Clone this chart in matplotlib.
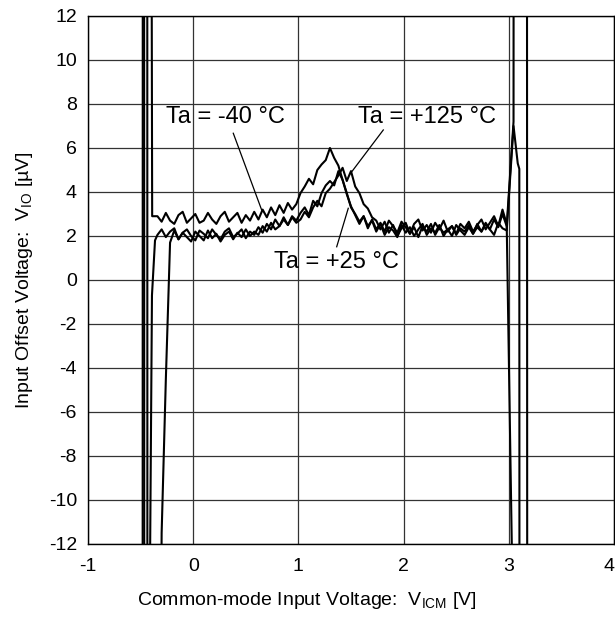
import numpy as np
import matplotlib.pyplot as plt

plt.rcParams['font.family'] = ['Liberation Sans', 'DejaVu Sans']
plt.rcParams['mathtext.fontset'] = 'custom'
plt.rcParams['mathtext.rm'] = 'Liberation Sans'

# common-mode input voltage [V] for the measured (in-range) part of the sweep
vicm = [-0.34, -0.30, -0.26, -0.22, -0.18, -0.14, -0.10, -0.06,
        -0.02, 0.02, 0.06, 0.10, 0.14, 0.18, 0.22, 0.26,
        0.30, 0.34, 0.38, 0.42, 0.46, 0.50, 0.54, 0.58,
        0.62, 0.66, 0.70, 0.74, 0.78, 0.82, 0.86, 0.90,
        0.94, 0.98, 1.02, 1.06, 1.10, 1.14, 1.18, 1.22,
        1.26, 1.30, 1.34, 1.38, 1.42, 1.46, 1.50, 1.54,
        1.58, 1.62, 1.66, 1.70, 1.74, 1.78, 1.82, 1.86,
        1.90, 1.94, 1.98, 2.02, 2.06, 2.10, 2.14, 2.18,
        2.22, 2.26, 2.30, 2.34, 2.38, 2.42, 2.46, 2.50,
        2.54, 2.58, 2.62, 2.66, 2.70, 2.74, 2.78, 2.82,
        2.86, 2.90, 2.94, 2.98]

# input offset voltage [uV]
vio_m40 = [2.9, 2.65, 3.05, 2.7, 2.55, 2.95, 3.1, 2.6,
           2.8, 3.0, 2.6, 2.7, 3.05, 2.75, 2.55, 2.9,
           3.1, 2.65, 2.85, 3.05, 2.6, 2.95, 2.7, 3.1,
           2.75, 3.2, 2.85, 3.3, 2.95, 3.4, 3.05, 3.5,
           3.2, 3.45, 3.95, 4.25, 4.6, 4.35, 5.0, 5.25,
           5.45, 6.0, 5.55, 5.2, 4.55, 3.9, 3.35, 2.95,
           2.55, 2.9, 2.35, 2.75, 2.3, 2.6, 2.2, 2.7,
           2.45, 2.15, 2.65, 2.4, 2.1, 2.55, 2.75, 2.25,
           2.5, 2.15, 2.6, 2.3, 2.7, 2.2, 2.45, 2.1,
           2.55, 2.35, 2.65, 2.2, 2.5, 2.75, 2.3, 2.6,
           2.9, 2.45, 3.2, 2.55]

vio_p25 = [2.05, 2.3, 1.95, 2.2, 2.35, 1.85, 2.15, 2.3,
           2.0, 1.8, 2.25, 2.1, 1.9, 2.3, 2.05, 1.85,
           2.2, 2.35, 1.95, 2.1, 2.3, 1.9, 2.2, 2.05,
           2.4, 2.15, 2.55, 2.3, 2.75, 2.45, 2.85, 2.5,
           2.9, 2.7, 3.05, 3.3, 2.95, 3.6, 3.35, 3.95,
           4.3, 4.5, 4.3, 4.95, 4.55, 3.95, 3.3, 3.0,
           2.65, 2.9, 2.45, 2.7, 2.2, 2.55, 2.05, 2.4,
           2.25, 1.95, 2.5, 2.15, 2.4, 2.0, 2.3, 2.55,
           2.05, 2.35, 2.15, 2.5, 2.0, 2.3, 2.45, 2.05,
           2.35, 2.2, 2.5, 2.1, 2.4, 2.2, 2.55, 2.3,
           2.05, 2.6, 2.35, 2.25]

vio_p125 = [-40.0, -11.5, -4.5, 1.7, 2.25, 1.85, 2.15, 1.95,
            1.75, 2.2, 2.0, 1.8, 2.25, 1.9, 2.1, 1.75,
            2.05, 2.2, 1.85, 2.15, 1.95, 2.3, 2.0, 2.2,
            2.05, 2.45, 2.2, 2.6, 2.3, 2.45, 2.75, 2.5,
            2.85, 2.6, 2.75, 3.1, 2.85, 3.3, 3.6, 3.35,
            3.95, 4.15, 4.45, 4.75, 5.1, 4.5, 4.95, 4.25,
            3.95, 3.45, 3.25, 2.85, 2.7, 2.3, 2.65, 2.15,
            2.5, 2.0, 2.35, 2.6, 2.1, 2.4, 1.95, 2.45,
            2.2, 2.55, 2.05, 2.4, 2.15, 2.3, 2.0, 2.5,
            2.25, 2.05, 2.4, 2.1, 2.55, 2.2, 2.6, 2.3,
            2.75, 2.4, 3.0, 2.45]

# out-of-range parts at both ends of each sweep (off-scale values)
m40_left_x = [-0.482, -0.478, -0.415, -0.39]
m40_left_y = [-60, 60, 60, 2.9]
m40_right_x = [3.035]
m40_right_y = [-14]

p25_left_x = [-0.468, -0.464, -0.412, -0.392, -0.363]
p25_left_y = [60, -60, -14, -0.7, 1.8]
p25_right_x = [3.045, 3.085, 3.10, 3.104]
p25_right_y = [7.0, 5.3, 5.05, -60]

p125_left_x = [-0.438, -0.434]
p125_left_y = [60, -60]
p125_right_x = [3.045, 3.05, 3.17, 3.178]
p125_right_y = [7.2, 60, 60, -60]

xticks = [-1, 0, 1, 2, 3, 4]
yticks = [-12, -10, -8, -6, -4, -2, 0, 2, 4, 6, 8, 10, 12]

fig = plt.figure(figsize=(6.15, 6.28), dpi=100)
ax = fig.add_axes([88 / 615, 1 - 544 / 628, 526 / 615, 528 / 628])

curves = [
    (m40_left_x, m40_left_y, vio_m40, m40_right_x, m40_right_y),
    (p25_left_x, p25_left_y, vio_p25, p25_right_x, p25_right_y),
    (p125_left_x, p125_left_y, vio_p125, p125_right_x, p125_right_y),
]
for lx, ly, mid, rx, ry in curves:
    x = np.concatenate([lx, vicm, rx])
    y = np.concatenate([ly, mid, ry])
    ax.plot(x, y, color='black', lw=1.5, zorder=3)

ax.set_xlim(-1, 4)
ax.set_ylim(-12, 12)
ax.set_xticks(xticks)
ax.set_yticks(yticks)
ax.set_xticklabels([str(t) for t in xticks])
ax.set_yticklabels([str(t) for t in yticks])
ax.get_xticklabels()[-1].set_ha('right')
ax.tick_params(length=0, labelsize=14, colors='black')
ax.tick_params(axis='x', pad=10)
ax.tick_params(axis='y', pad=8)
ax.grid(True, color='#333333', lw=0.9, zorder=1)
for s in ax.spines.values():
    s.set_linewidth(1.0)
    s.set_color('black')

ax.set_xlabel(r'Common-mode Input Voltage:  V$_\mathregular{ICM}$ [V]', fontsize=14, labelpad=11)
ax.xaxis.label.set_x((307 - 88) / 526)
ax.set_ylabel(r'Input Offset Voltage:  V$_\mathregular{IO}$ [µV]', fontsize=14, labelpad=10)

# temperature labels with leader lines
ax.text(-0.26, 7.41, 'Ta = -40 °C', fontsize=17, ha='left', va='center', zorder=4)
ax.plot([0.381, 0.651], [6.67, 3.18], color='black', lw=0.9, zorder=4)
ax.text(1.57, 7.41, 'Ta = +125 °C', fontsize=17, ha='left', va='center', zorder=4)
ax.plot([1.807, 1.507], [6.82, 4.92], color='black', lw=0.9, zorder=4)
ax.text(0.768, 0.83, 'Ta = +25 °C', fontsize=17, ha='left', va='center', zorder=4)
ax.plot([1.364, 1.474], [1.51, 3.26], color='black', lw=0.9, zorder=4)

fig.savefig('out.png', dpi=100)
